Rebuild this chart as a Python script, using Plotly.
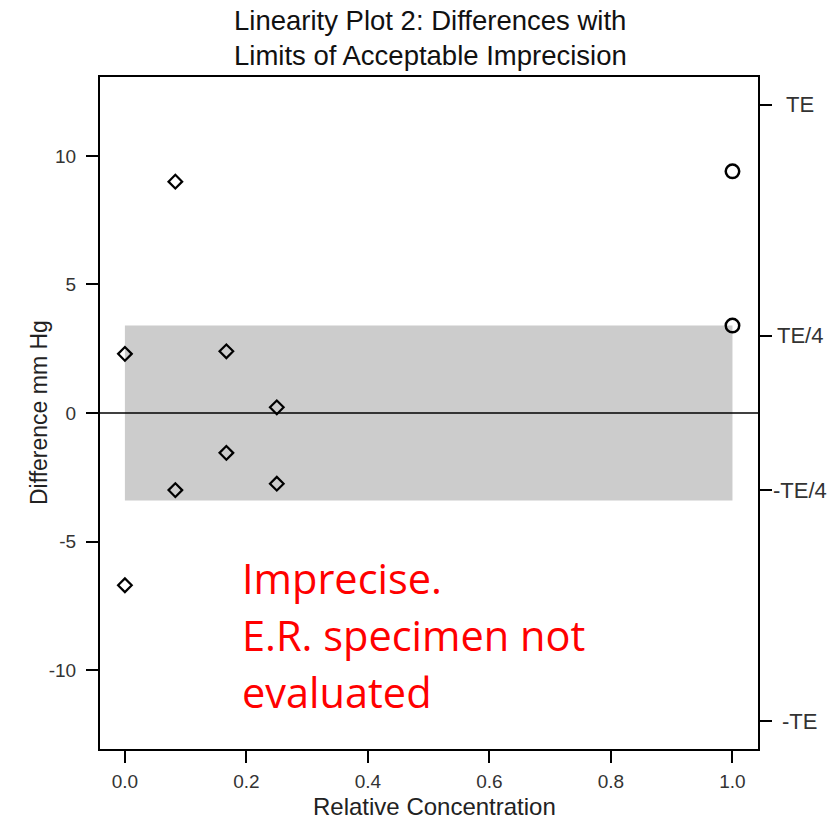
import plotly.graph_objects as go

# ---- data ----
diamond_x = [0.0, 0.0, 0.083, 0.083, 0.167, 0.167, 0.25, 0.25]
diamond_y = [2.3, -6.7, 9.0, -3.0, 2.4, -1.55, 0.22, -2.75]
circle_x = [1.0, 1.0]
circle_y = [9.4, 3.4]

band_x = [0.0, 1.0]
band_y = [-3.4, 3.4]

left_ticks = [-10, -5, 0, 5, 10]
left_ticklabels = ["-10", "-5", "0", "5", "10"]
x_ticks = [0.0, 0.2, 0.4, 0.6, 0.8, 1.0]
x_ticklabels = ["0.0", "0.2", "0.4", "0.6", "0.8", "1.0"]
te = 12
right_ticks = [te, te / 4, -te / 4, -te]
right_ticklabels = ["TE", "TE/4", "-TE/4", "-TE"]

title_lines = ["Linearity Plot 2: Differences with", "Limits of Acceptable Imprecision"]
note_lines = ["Imprecise.", "E.R. specimen not", "evaluated"]
note_y = [-6.42, -8.64, -10.86]

font = "Liberation Sans, Arial, sans-serif"

fig = go.Figure()

fig.add_trace(go.Scatter(
    x=diamond_x, y=diamond_y, mode="markers",
    marker=dict(symbol="diamond-open", size=10.5, color="black",
                line=dict(width=2.2, color="black")),
    showlegend=False, hoverinfo="skip"))
fig.add_trace(go.Scatter(
    x=circle_x, y=circle_y, mode="markers",
    marker=dict(symbol="circle-open", size=13.5, color="black",
                line=dict(width=2.5, color="black")),
    showlegend=False, hoverinfo="skip"))
# invisible trace so the right axis is drawn
fig.add_trace(go.Scatter(x=[None], y=[None], yaxis="y2", mode="markers",
                         showlegend=False, hoverinfo="skip"))

# shaded limits band
fig.add_shape(type="rect", xref="x", yref="y",
              x0=band_x[0], x1=band_x[1], y0=band_y[0], y1=band_y[1],
              fillcolor="#cccccc", line=dict(width=0), layer="below")
# zero line
fig.add_shape(type="line", xref="paper", yref="y", x0=0, x1=1, y0=0, y1=0,
              line=dict(color="black", width=1.5))

annotations = []
for line_text, py in zip(title_lines, [1.0848, 1.0327]):
    annotations.append(dict(text=line_text, xref="paper", yref="paper",
                            x=0.502, y=py, xanchor="center", yanchor="middle",
                            showarrow=False,
                            font=dict(family=font, size=27.5, color="#111111")))
for line_text, yy in zip(note_lines, note_y):
    annotations.append(dict(text=line_text, xref="x", yref="y",
                            x=0.19, y=yy, xanchor="left", yanchor="middle",
                            showarrow=False,
                            font=dict(family="Open Sans, Lato, sans-serif", size=41.5, color="#ff0000")))
for val, lab in zip(right_ticks, right_ticklabels):
    annotations.append(dict(text=lab, xref="paper", yref="y",
                            x=1.0638, y=val, xanchor="center", yanchor="middle",
                            showarrow=False,
                            font=dict(family=font, size=22, color="#333333")))
annotations.append(dict(text="Relative Concentration", xref="paper", yref="paper",
                        x=0.508, y=-0.0863, xanchor="center", yanchor="middle",
                        showarrow=False, font=dict(family=font, size=24, color="#222222")))
annotations.append(dict(text="Difference mm Hg", xref="paper", yref="paper",
                        x=-0.0927, y=0.5, xanchor="center", yanchor="middle",
                        textangle=-90, showarrow=False,
                        font=dict(family=font, size=23, color="#222222")))

fig.update_layout(
    width=839, height=821,
    margin=dict(l=100, r=81, t=77, b=72),
    paper_bgcolor="white", plot_bgcolor="white",
    annotations=annotations,
    xaxis=dict(range=[-0.041, 1.042], tickvals=x_ticks, ticktext=x_ticklabels,
               showgrid=False, zeroline=False, showline=True, mirror=True,
               linecolor="black", linewidth=2.2, ticks="outside", ticklen=12,
               tickwidth=2.2, tickcolor="black", ticklabelstandoff=2,
               tickfont=dict(family=font, size=19, color="#333333")),
    yaxis=dict(range=[-13.07, 13.07], tickvals=left_ticks, ticktext=left_ticklabels,
               showgrid=False, zeroline=False, showline=True,
               linecolor="black", linewidth=2.2, ticks="outside", ticklen=12,
               tickwidth=2.2, tickcolor="black", ticklabelstandoff=6,
               tickfont=dict(family=font, size=19, color="#333333")),
    yaxis2=dict(range=[-13.07, 13.07], overlaying="y", side="right",
                tickvals=right_ticks, showticklabels=False,
                showgrid=False, zeroline=False, showline=True,
                linecolor="black", linewidth=2.2, ticks="outside", ticklen=12,
                tickwidth=2.2, tickcolor="black"),
)

fig.write_html("out.html")
